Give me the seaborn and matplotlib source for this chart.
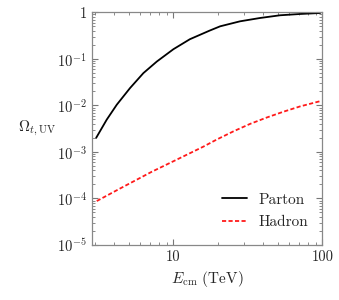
import numpy as np
import pandas as pd
import matplotlib.pyplot as plt
import matplotlib.ticker as mticker
import seaborn as sns

sns.set_style('ticks')
plt.rcParams['font.family'] = 'serif'
plt.rcParams['font.serif'] = ['cmr10', 'DejaVu Serif']
plt.rcParams['mathtext.fontset'] = 'cm'
plt.rcParams['axes.unicode_minus'] = False

# values (log-log)
e_parton = [3.03, 3.57, 4.17, 5.12, 6.29, 7.74, 10.0, 12.9, 17.5, 20.6, 28.0, 38.2, 52.0, 70.8, 96.6]
omega_parton = [2.0e-3, 4.94e-3, 1.035e-2, 2.36e-2, 4.94e-2, 8.75e-2, 0.161, 0.264, 0.404,
                0.50, 0.64, 0.755, 0.863, 0.92, 0.966]
e_hadron = [3.06, 4.28, 7.16, 10.0, 15.9, 19.5, 25.3, 32.7, 42.4, 54.7, 70.8, 95.5]
omega_hadron = [8.8e-5, 1.57e-4, 3.75e-4, 6.3e-4, 1.3e-3, 1.84e-3, 2.77e-3, 4.0e-3,
                5.5e-3, 7.3e-3, 9.5e-3, 1.22e-2]

df = pd.concat([
    pd.DataFrame({'E': e_parton, 'Omega': omega_parton, 'kind': 'Parton'}),
    pd.DataFrame({'E': e_hadron, 'Omega': omega_hadron, 'kind': 'Hadron'}),
])

fig = plt.figure(figsize=(3.39, 3.0), dpi=100)
ax = fig.add_axes([0.2705, 0.1833, 0.6805, 0.7757])
sns.lineplot(data=df, x='E', y='Omega', hue='kind', style='kind',
             palette={'Parton': 'black', 'Hadron': '#ff1a1a'},
             dashes={'Parton': '', 'Hadron': (2.3, 1.3)},
             linewidth=1.3, ax=ax, sort=False)

ax.set_xscale('log')
ax.set_yscale('log')
ax.set_xlim(2.83, 100)
ax.set_ylim(1e-5, 1)

ax.xaxis.set_major_locator(mticker.FixedLocator([10, 100]))
ax.xaxis.set_major_formatter(mticker.FixedFormatter(['10', '100']))
ax.xaxis.set_minor_locator(mticker.LogLocator(base=10, subs=np.arange(2, 10), numticks=20))
ax.xaxis.set_minor_formatter(mticker.NullFormatter())
yt = [1e-5, 1e-4, 1e-3, 1e-2, 1e-1, 1]
ax.yaxis.set_major_locator(mticker.FixedLocator(yt))
ax.yaxis.set_major_formatter(mticker.FixedFormatter(
    [r'$10^{-5}$', r'$10^{-4}$', r'$10^{-3}$', r'$10^{-2}$', r'$10^{-1}$', '1']))
ax.yaxis.set_minor_locator(mticker.LogLocator(base=10, subs=np.arange(2, 10), numticks=20))
ax.yaxis.set_minor_formatter(mticker.NullFormatter())

ax.tick_params(which='both', direction='in', top=True, right=True, color='#777777', labelsize=10.5)
ax.tick_params(which='major', length=4.5, width=0.8)
ax.tick_params(which='minor', length=2.2, width=0.6)
for s in ax.spines.values():
    s.set_color('#888888')
    s.set_linewidth(0.9)

ax.set_xlabel(r'$E_{\rm cm}$ (TeV)', fontsize=11)
ax.set_ylabel(r'$\Omega_{t,{\rm UV}}$', fontsize=11, rotation=0, labelpad=14, va='center')

leg = ax.legend(loc='lower right', frameon=False, fontsize=11, handlelength=1.6,
                bbox_to_anchor=(1.0, 0.01), labelspacing=0.55)
leg.set_title(None)

fig.savefig('out.png', dpi=100)
